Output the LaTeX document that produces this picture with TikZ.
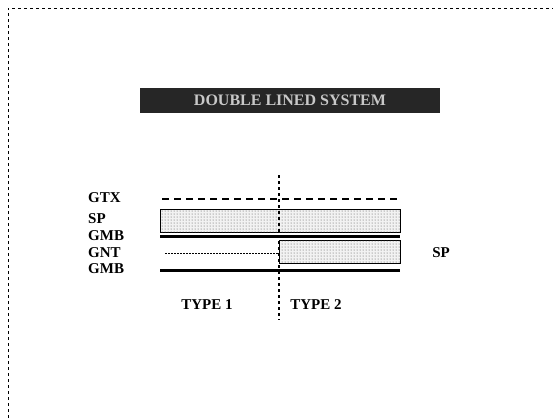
\documentclass[tikz,border=0pt]{standalone}
\usepackage{fontspec}
\setmainfont{Liberation Serif}
\usetikzlibrary{patterns}

\begin{document}
\begin{tikzpicture}[x=1pt,y=-1pt,
    lbl/.style={font=\bfseries\fontsize{15}{15}\selectfont, inner sep=0pt},
    layerbox/.style={draw=black, line width=0.8pt, fill=gray!10, postaction={pattern=dots, pattern color=black!70}},
    groundline/.style={line width=3pt},
    txline/.style={line width=1.6pt, dash pattern=on 7pt off 5pt},
    ntline/.style={line width=1pt, dash pattern=on 1.5pt off 1.5pt},
    cutline/.style={line width=2.4pt, dash pattern=on 3pt off 3pt}]
    % Define colours
    \definecolor{frameColour}{HTML}{000000}
    \definecolor{barColour}{HTML}{262626}
    \definecolor{barText}{HTML}{C8C8C8}

    % Define the layer limits
    \def\xLeft{160}
    \def\xCut{279}
    \def\xRight{400}

    \useasboundingbox (0,0) rectangle (553,418);

    % Draw the page frame
    \draw[frameColour, line width=1pt, dash pattern=on 3pt off 3pt] (8,418) -- (8,8) -- (553,8);

    % Draw the title bar
    \node[fill=barColour, minimum width=300pt, minimum height=25pt, inner sep=0pt,
          text=barText, font=\bfseries\fontsize{16}{16}\selectfont] (title) at (290,100) {DOUBLE LINED SYSTEM};

    % Label the layers
    \node[lbl, anchor=west] (gtx)  at (88,198) {GTX};
    \node[lbl, anchor=west] (sp)   at (88,219) {SP};
    \node[lbl, anchor=west] (gmbA) at (88,236) {GMB};
    \node[lbl, anchor=west] (gnt)  at (88,253) {GNT};
    \node[lbl, anchor=west] (gmbB) at (88,269) {GMB};
    \node[lbl] (spright) at (441,253) {SP};

    % Define the layer end points
    \coordinate (txL) at (162,199);
    \coordinate (txR) at (\xRight,199);
    \coordinate (gaL) at (\xLeft,236);
    \coordinate (gaR) at (\xRight,236);
    \coordinate (ntL) at (165,253);
    \coordinate (ntR) at (\xCut,253);
    \coordinate (gbL) at (\xLeft,270);
    \coordinate (gbR) at (\xRight,270);
    \coordinate (cutT) at (\xCut,175);
    \coordinate (cutB) at (\xCut,320);

    % Draw the layers
    \draw[txline] (txL) -- (txR);
    \node[layerbox, anchor=north west, minimum width=240pt, minimum height=23pt, inner sep=0pt] (spbox) at (\xLeft,209) {};
    \draw[groundline] (gaL) -- (gaR);
    \draw[ntline] (ntL) -- (ntR);
    \node[layerbox, anchor=north west, minimum width=121pt, minimum height=23pt, inner sep=0pt] (spboxB) at (\xCut,240) {};
    \draw[groundline] (gbL) -- (gbR);

    % Draw the cut between the two types
    \draw[cutline] (cutT) -- (cutB);

    % Label the types
    \node[lbl] (typeA) at (207,305) {TYPE 1};
    \node[lbl] (typeB) at (316,305) {TYPE 2};

\end{tikzpicture}
\end{document}
